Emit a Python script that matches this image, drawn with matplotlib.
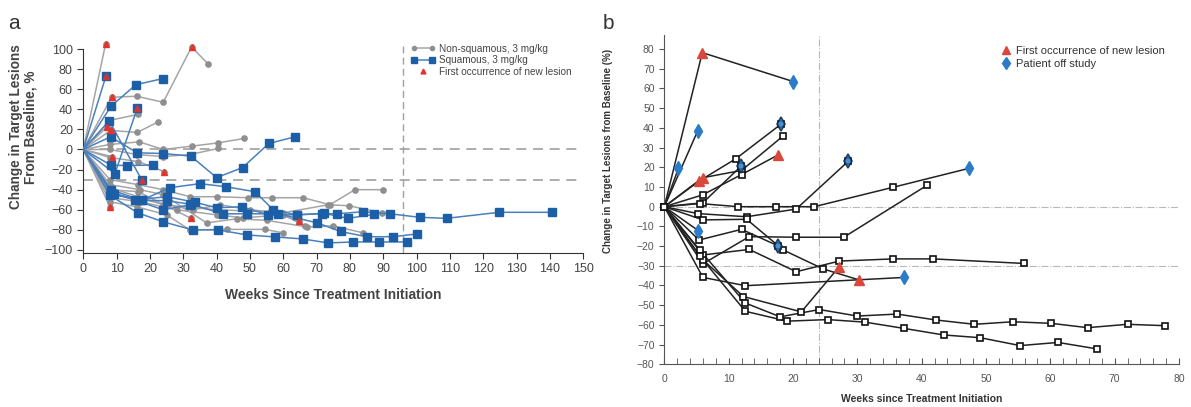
import matplotlib
matplotlib.use('Agg')
import matplotlib.pyplot as plt
from matplotlib.lines import Line2D
from matplotlib.legend_handler import HandlerLine2D
from matplotlib.ticker import MultipleLocator

plt.rcParams['font.family'] = ['Liberation Sans', 'DejaVu Sans']

# ---- panel a: non-squamous (gray) ----
nsq_weeks = [
    [0, 6.7],
    [0, 8.5, 16, 24, 32.5, 37.5],
    [0, 8, 16.5],
    [0, 7],
    [0, 8.2, 16.2, 22.5],
    [0, 8, 16.8, 24, 32.5, 40.5, 48.3],
    [0, 8, 16, 24, 32, 40.5],
    [0, 8.5],
    [0, 8],
    [0, 8, 16.5, 24, 32, 40, 49.5, 56.5, 66, 74, 81.5, 90],
    [0, 8, 16, 25, 33, 41, 50, 60, 73.5, 79.8, 89.5],
    [0, 8, 16, 25, 32, 43, 54.5, 60],
    [0, 8, 17, 24, 37, 46, 55, 67, 75, 84],
    [0, 8, 17, 28, 40, 48, 60, 66.5],
    [0, 8, 16.5, 24.3],
    [0, 8, 16.5, 32.3],
    [0, 8, 24, 40, 56, 64.7],
]
nsq_change = [
    [0, 105],
    [0, 52, 53, 47, 102, 85],
    [0, 29, 35],
    [0, 22],
    [0, 19, 17, 27.5],
    [0, 5, 7.6, 0, 3.3, 6.6, 11],
    [0, 0, -5, -7, -5, 1],
    [0, -7],
    [0, -57],
    [0, -30, -35, -40, -47, -47, -48, -48, -48, -55, -40, -40],
    [0, -45, -48, -55, -60, -55, -60, -63, -55, -56, -63],
    [0, -52, -57, -65, -80, -79.5, -79.5, -83],
    [0, -35, -40, -45, -73, -69, -70.5, -77, -76, -83],
    [0, -48, -52, -60, -65, -68, -65, -76],
    [0, -8, -12, -22],
    [0, -40, -42, -68.5],
    [0, -38, -55, -60, -62, -70.8],
]
nsq_lesion = [[1], [1, 4], [], [1], [1], [], [], [1], [1], [], [], [], [], [], [3], [3], [5]]

# ---- panel a: squamous (blue) ----
sq_weeks = [
    [0, 6.8],
    [0, 8.3, 15.8, 23.8],
    [0, 7.8, 17.5],
    [0, 8.2, 16.2, 24, 32.3, 40, 47.8, 55.7, 63.5],
    [0, 8.3, 13.2, 21],
    [0, 9.5, 16.2],
    [0, 8.2, 17.5, 26, 35, 42.7, 51.5, 57, 64, 71.5, 76, 83.8, 92, 101, 109, 124.8, 140.5],
    [0, 8.5, 15.5, 25.2, 33.5, 40, 47.5, 55.5, 64, 72.2, 79.5, 87.2],
    [0, 8, 16.3, 24, 32.8, 40.5, 49, 57.5, 65.8, 73.5, 81, 88.6, 97],
    [0, 9.2, 17.5, 25.2, 32.3, 41.8, 49.2, 58.5, 70.2, 77.2, 85, 93, 100.2],
    [0, 8.2, 24, 32],
]
sq_change = [
    [0, 73],
    [0, 43, 64.5, 70.5],
    [0, 28.5, -30],
    [0, 12.6, -3.3, -4, -6.6, -28, -18, 6, 12.6],
    [0, -15.5, -16, -15.5],
    [0, -24, 41],
    [0, -40, -50.5, -38, -34, -37, -42, -60, -65, -64, -64, -62, -64, -67.5, -68.5, -62.5, -62.5],
    [0, -44, -50, -47, -52.5, -58, -57, -65, -65, -63.5, -68.5, -64.5],
    [0, -45.5, -63, -72, -80, -80, -85, -87, -89, -93, -92, -92, -92],
    [0, -44.5, -50.5, -51, -54.5, -64, -64, -64, -73, -81.6, -86.8, -86.8, -84],
    [0, -42, -60, -55],
]
sq_lesion = [[1], [], [2], [], [], [2], [], [], [], [], []]

# ---- panel b ----
b_weeks = [
    [0, 5.9, 20.05],
    [0, 5.2],
    [0, 2.2],
    [0, 5.4, 11.1, 18.1],
    [0, 5.95, 12, 18.5],
    [0, 5.95, 12, 17.7],
    [0, 6, 11.9],
    [0, 5.5, 11.5, 17.4, 23.3, 35.5, 47.4],
    [0, 5.2, 12.8, 20.5, 28.6],
    [0, 6, 12.8, 18.5, 24.7, 30.3],
    [0, 5.3],
    [0, 5.4, 12, 17.7],
    [0, 6, 13.2, 20.5, 27.9, 40.9],
    [0, 6, 13.2, 20.5, 27.2, 35.6, 41.8, 55.9],
    [0, 6, 12.6, 37.3],
    [0, 6, 12.3, 21.3, 27.2],
    [0, 5.5, 12.6, 18, 24.1, 30, 36.2, 42.2, 48.2, 54.2, 60.1, 65.8, 72, 77.9],
    [0, 5.5, 12.6, 19.1, 25.4, 31.2, 37.3, 43.4, 49.1, 55.3, 61.2, 67.3],
]
b_change = [
    [0, 78.2, 63.5],
    [0, 38.6],
    [0, 19.5],
    [0, 13, 24.3, 41.8],
    [0, 14.7, 18.4, 36],
    [0, 6, 16.3, 26.3],
    [0, 2, 20.5],
    [0, 1.6, 0, 0, 0, 9.8, 19.5],
    [0, -3.5, -5.1, -1.2, 23.1],
    [0, -6.7, -6.4, -22, -31.6, -37.2],
    [0, -12.2],
    [0, -16.9, -11.5, -19.9],
    [0, -29, -15.2, -15.5, -15.5, 11],
    [0, -24.5, -21.7, -33, -27.6, -26.5, -26.5, -28.8],
    [0, -35.9, -40.1, -35.9],
    [0, -27, -45.6, -53.4, -30.4],
    [0, -22, -48.9, -55.9, -52.2, -55.5, -54.5, -57.5, -59.7, -58.4, -59.2, -61.4, -59.7, -60.4],
    [0, -25, -53.1, -58.1, -57.3, -58.6, -61.8, -65.1, -66.5, -70.5, -68.9, -72.2],
]
b_lesion = [[1], [], [], [1], [1], [3], [], [], [], [5], [], [], [], [], [], [4], [], []]
# off study at last visit: '' none, 'plain' diamond only, 'dark' diamond over square
b_off = ['plain', 'plain', 'plain', 'dark', '', '', 'dark', 'plain', 'dark', '', 'plain', 'dark',
         '', '', 'plain', '', '', '']

GRAY_LINE = '#a5a5a5'
GRAY_MK = '#8f8f8f'
BLUE_LINE = '#4a80bd'
BLUE_MK = '#1d5fa6'
RED = '#e5322d'
B_RED = '#d8493b'
B_BLUE = '#2c7bc6'

fig = plt.figure(figsize=(11.91, 4.07), dpi=100)

# ================= panel a =================
ax = fig.add_axes([0.0699, 0.3784, 0.4198, 0.516])
ax.axhline(0, color='#a0a0a0', lw=1.2, ls=(0, (6, 4)), zorder=1)
ax.axhline(-30, color='#a0a0a0', lw=1.2, ls=(0, (6, 4)), zorder=1)
ax.axvline(96, color='#a0a0a0', lw=1.0, ls=(0, (5, 3)), zorder=1)

for w, c, les in zip(nsq_weeks, nsq_change, nsq_lesion):
    ax.plot(w, c, color=GRAY_LINE, lw=1.1, zorder=2)
    ax.plot(w[1:], c[1:], 'o', color=GRAY_MK, ms=3.8, zorder=3, clip_on=False)
    for i in les:
        ax.plot(w[i], c[i], '^', color=RED, ms=4.5, zorder=6, clip_on=False)

for w, c, les in zip(sq_weeks, sq_change, sq_lesion):
    ax.plot(w, c, color=BLUE_LINE, lw=1.1, zorder=4)
    ax.plot(w[1:], c[1:], 's', color=BLUE_MK, ms=5.3, zorder=5, clip_on=False)
    for i in les:
        ax.plot(w[i], c[i], '^', color=RED, ms=4.5, alpha=0.8, zorder=6, clip_on=False)

ax.set_xlim(0, 150)
ax.set_ylim(-103, 106)
ax.spines['top'].set_visible(False)
ax.spines['right'].set_visible(False)
ax.spines['left'].set_bounds(-103, 100)
ax.spines['left'].set_color('#333333')
ax.spines['bottom'].set_color('#333333')
ax.set_xticks(range(0, 151, 10))
ax.set_yticks(range(-100, 101, 20))
ax.tick_params(labelsize=9, length=4, color='#333333', labelcolor='#444444')
ax.set_xlabel('Weeks Since Treatment Initiation', fontsize=10, fontweight='bold',
              color='#444444', labelpad=9)
ax.set_ylabel('Change in Target Lesions\nFrom Baseline, %', fontsize=9.8, fontweight='bold',
              color='#444444', linespacing=1.05)
ax.yaxis.set_label_coords(-0.092, 0.6)

leg_a = [
    Line2D([], [], color=GRAY_LINE, marker='o', markerfacecolor=GRAY_MK, markeredgecolor=GRAY_MK,
           ms=3, lw=1.1, label='Non-squamous, 3 mg/kg'),
    Line2D([], [], color=BLUE_LINE, marker='s', markerfacecolor=BLUE_MK, markeredgecolor=BLUE_MK,
           ms=4.5, lw=1.1, label='Squamous, 3 mg/kg'),
    Line2D([], [], color=RED, marker='^', ls='none', ms=3.5, label='First occurrence of new lesion'),
]
ax.legend(handles=leg_a, loc='upper left', bbox_to_anchor=(0.645, 1.02), frameon=False,
          fontsize=7.2, handlelength=2.4, handletextpad=0.4, labelspacing=0.15,
          borderpad=0, numpoints=2, labelcolor='#444444',
          handler_map={leg_a[2]: HandlerLine2D(numpoints=1)})

fig.text(0.007, 0.965, 'a', fontsize=15, va='top', color='#333333')

# ================= panel b =================
bx = fig.add_axes([0.5578, 0.1049, 0.4321, 0.8084])
bx.axhline(0, color='#b8b8b8', lw=0.8, ls='-.', zorder=1)
bx.axhline(-30, color='#b8b8b8', lw=0.8, ls='-.', zorder=1)
bx.axvline(24, color='#b8b8b8', lw=0.8, ls='-.', zorder=1)

for w, c, les, off in zip(b_weeks, b_change, b_lesion, b_off):
    bx.plot(w, c, color='#222222', lw=1.1, zorder=2)
    skip = set(les)
    if off == 'plain':
        skip.add(len(w) - 1)
    sw = [w[i] for i in range(len(w)) if i not in skip]
    sc = [c[i] for i in range(len(w)) if i not in skip]
    bx.plot(sw, sc, 's', ms=4.5, mfc='white', mec='#111111', mew=1.2, zorder=3, clip_on=False)
    for i in les:
        bx.plot(w[i], c[i], '^', color=B_RED, ms=7.5, zorder=5)
    if off == 'plain':
        bx.plot(w[-1], c[-1], 'd', color=B_BLUE, ms=7, zorder=5)
    elif off == 'dark':
        bx.plot(w[-1], c[-1], 'd', mfc=B_BLUE, mec='#0d2a4a', mew=1.2, ms=7, alpha=0.85, zorder=5)

bx.set_xlim(0, 80)
bx.set_ylim(-80, 87)
bx.spines['top'].set_visible(False)
bx.spines['right'].set_visible(False)
bx.spines['left'].set_bounds(-80, 87)
bx.spines['left'].set_color('#555555')
bx.spines['bottom'].set_color('#555555')
bx.xaxis.set_major_locator(MultipleLocator(10))
bx.xaxis.set_minor_locator(MultipleLocator(2))
bx.yaxis.set_major_locator(MultipleLocator(10))
bx.tick_params(axis='x', which='both', direction='in', length=4, color='#555555', pad=7)
bx.tick_params(axis='y', direction='out', length=3.5, color='#555555')
bx.tick_params(labelsize=7.5, labelcolor='#555555')
bx.set_xlabel('Weeks since Treatment Initiation', fontsize=7.5, fontweight='bold',
              color='#333333', labelpad=7)
bx.set_ylabel('Change in Target Lesions from Baseline (%)', fontsize=7, fontweight='bold',
              color='#333333')
bx.yaxis.set_label_coords(-0.1, 0.65)

leg_b = [
    Line2D([], [], color=B_RED, marker='^', ls='none', ms=6, label='First occurrence of new lesion'),
    Line2D([], [], color=B_BLUE, marker='d', ls='none', ms=6.5, label='Patient off study'),
]
bx.legend(handles=leg_b, loc='upper left', bbox_to_anchor=(0.645, 0.985), frameon=False,
          fontsize=8, handlelength=0.8, handletextpad=0.5, labelspacing=0.3, borderpad=0,
          labelcolor='#333333')

fig.text(0.506, 0.965, 'b', fontsize=15, va='top', color='#333333')

fig.savefig('out.png', dpi=100)
